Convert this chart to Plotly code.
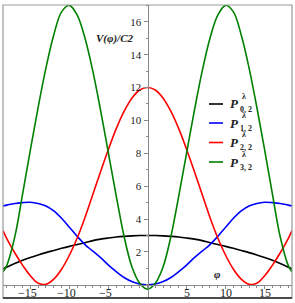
import plotly.graph_objects as go

phi = [-18.5, -18, -17, -16, -15, -14, -13, -12, -11, -10, -9, -8, -7, -6, -5, -4, -3, -2, -1,
       0, 1, 2, 3, 4, 5, 6, 7, 8, 9, 10, 11, 12, 13, 14, 15, 16, 17, 18, 18.5]

p02 = [0.97, 1.08, 1.3, 1.5, 1.67, 1.82, 1.96, 2.09, 2.22, 2.34, 2.45, 2.56, 2.69, 2.78, 2.85, 2.91, 2.95, 2.98, 3.0,
       3.0, 3.0, 2.98, 2.95, 2.91, 2.85, 2.78, 2.69, 2.56, 2.45, 2.34, 2.22, 2.09, 1.96, 1.82, 1.67, 1.5, 1.3, 1.08, 0.97]
p12 = [4.8, 4.85, 4.95, 5.0, 5.02, 4.95, 4.8, 4.5, 4.05, 3.5, 2.95, 2.45, 2.05, 1.65, 1.2, 0.8, 0.45, 0.2, 0.05,
       0.0, 0.05, 0.2, 0.45, 0.8, 1.2, 1.65, 2.05, 2.45, 2.95, 3.5, 4.05, 4.5, 4.8, 4.95, 5.02, 5.0, 4.95, 4.85, 4.8]
p22 = [3.3, 2.8, 1.95, 1.2, 0.55, 0.1, 0.03, 0.35, 0.95, 1.8, 2.85, 4.1, 5.5, 6.9, 8.25, 9.5, 10.55, 11.35, 11.85,
       12.0, 11.85, 11.35, 10.55, 9.5, 8.25, 6.9, 5.5, 4.1, 2.85, 1.8, 0.95, 0.35, 0.03, 0.1, 0.55, 1.2, 1.95, 2.8, 3.3]
p32 = [0.78, 1.2, 2.9, 5.5, 8.2, 10.8, 13.2, 15.2, 16.6, 17.0, 16.4, 15.0, 13.0, 10.6, 8.0, 5.4, 2.95, 1.1, 0.1,
       -0.26, 0.1, 1.1, 2.95, 5.4, 8.0, 10.6, 13.0, 15.0, 16.4, 17.0, 16.6, 15.2, 13.2, 10.8, 8.2, 5.5, 2.9, 1.2, 0.78]

series = [
    ("0, 2", p02, "#000000"),
    ("1, 2", p12, "#0000ff"),
    ("2, 2", p22, "#ff0000"),
    ("3, 2", p32, "#008000"),
]

xticks = [-15, -10, -5, 5, 10, 15]
xticktext = ["−15", "−10", "−5", "5", "10", "15"]
yticks = [2, 4, 6, 8, 10, 12, 14, 16]

W, H = 295, 303
ML, MR, MT, MB = 3, 3, 5, 5
XR = [-18.5, 18.5]
YR = [-0.8, 17.02]
pw, ph = W - ML - MR, H - MT - MB

def px2paper(x, y):
    return (x - ML) / pw, 1 - (y - MT) / ph

fig = go.Figure()
for name, vals, col in series:
    fig.add_trace(go.Scatter(x=phi, y=vals, mode="lines", name=name,
                             line=dict(color=col, width=1.6, shape="spline", smoothing=1.0),
                             showlegend=False))

font = "Liberation Serif"
annotations = [
    dict(x=-4.2, y=15.0, xref="x", yref="y", text="<b><i>V(φ)/C2</i></b>", showarrow=False,
         font=dict(family=font, size=11, color="#222"), xanchor="center", yanchor="middle"),
    dict(x=9.0, y=0.65, xref="x", yref="y", text="<b><i>φ</i></b>", showarrow=False,
         font=dict(family=font, size=11, color="#222"), xanchor="center", yanchor="middle"),
]
for tv, tt in zip(xticks, xticktext):
    annotations.append(dict(x=tv - (0.4 if tv < 0 else 0), y=-0.5, xref="x", yref="y", text=tt,
                            showarrow=False, xanchor="center", yanchor="middle",
                            font=dict(family=font, size=12, color="#222")))
shapes = [
    dict(type="rect", xref="paper", yref="paper", x0=0, x1=1, y0=0, y1=1,
         line=dict(color="#999999", width=1.2)),
    dict(type="line", xref="paper", yref="paper", x0=0, x1=1, y0=0, y1=0,
         line=dict(color="#222222", width=1.5)),
]
leg_y = [104, 123, 142.5, 162]
for (name, vals, col), yy in zip(series, leg_y):
    x0, y0 = px2paper(209, yy)
    x1, _ = px2paper(223, yy)
    shapes.append(dict(type="line", xref="paper", yref="paper", x0=x0, x1=x1, y0=y0, y1=y0,
                       line=dict(color=col, width=1.6)))
    ax, ay = px2paper(227.5, yy)
    annotations.append(dict(x=ax, y=ay, xref="paper", yref="paper", text="<b><i>P</i></b>",
                            showarrow=False, xanchor="left", yanchor="middle",
                            font=dict(family=font, size=13, color="#222")))
    lx, ly = px2paper(239.5, yy - 7.5)
    annotations.append(dict(x=lx, y=ly, xref="paper", yref="paper", text="<b>λ</b>",
                            showarrow=False, xanchor="left", yanchor="middle",
                            font=dict(family=font, size=8, color="#222")))
    sx, sy = px2paper(237.5, yy + 5.5)
    annotations.append(dict(x=sx, y=sy, xref="paper", yref="paper", text="<b>" + name + "</b>",
                            showarrow=False, xanchor="left", yanchor="middle",
                            font=dict(family=font, size=8, color="#222")))

fig.update_layout(
    width=W, height=H, margin=dict(l=ML, r=MR, t=MT, b=MB),
    paper_bgcolor="white", plot_bgcolor="white",
    showlegend=False,
    annotations=annotations, shapes=shapes,
    xaxis=dict(range=XR, anchor="free", position=(0 - YR[0]) / (YR[1] - YR[0]),
               showgrid=False, zeroline=False, showline=True, linecolor="#888888", linewidth=1,
               tickvals=xticks, showticklabels=False, ticks="outside", ticklen=3, tickcolor="#888888",
               minor=dict(dtick=1, tick0=0, ticks="outside", ticklen=2, tickcolor="#888888")),
    yaxis=dict(range=YR, anchor="free", position=(0 - XR[0]) / (XR[1] - XR[0]),
               showgrid=False, zeroline=False, showline=True, linecolor="#888888", linewidth=1,
               tickvals=yticks, ticks="outside", ticklen=4, tickcolor="#888888",
               minor=dict(dtick=1, tick0=0, ticks="outside", ticklen=2, tickcolor="#888888"),
               tickfont=dict(family=font, size=11, color="#222")),
)

fig.write_html("out.html", config={"displayModeBar": False},
               post_script="document.body.style.margin='0';document.body.style.padding='0';"
                           "document.body.style.overflow='hidden';")
